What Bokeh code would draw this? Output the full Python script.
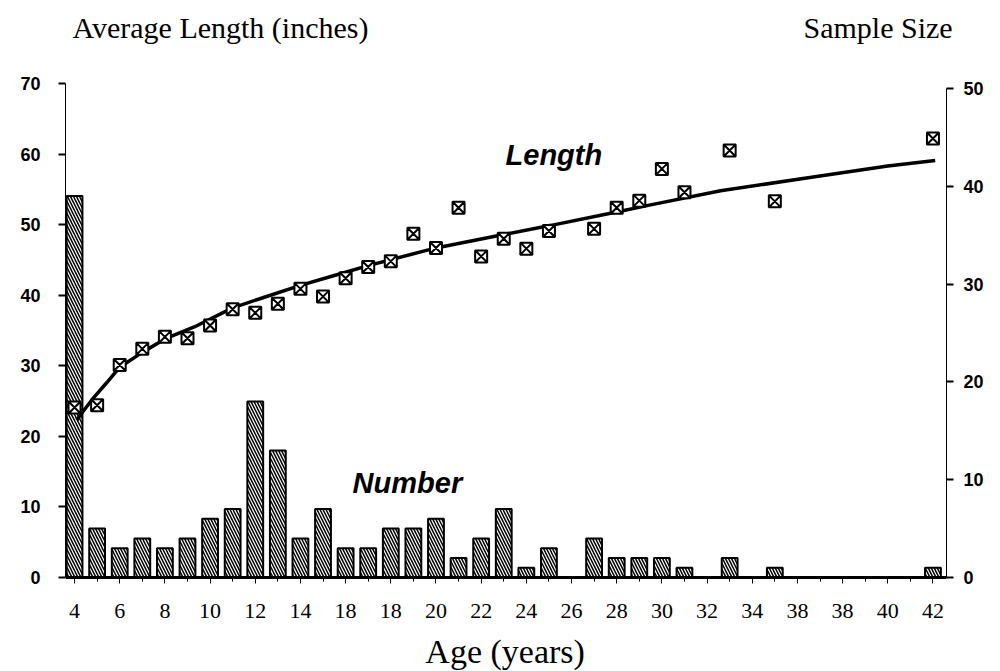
from bokeh.plotting import figure
from bokeh.models import Range1d, LinearAxis, FixedTicker, Label
from bokeh.embed import file_html
from bokeh.resources import INLINE

# ---- data ----
ages = [4, 5, 6, 7, 8, 9, 10, 11, 12, 13, 14, 15, 16, 17, 18, 19, 20, 21, 22, 23,
        24, 25, 27, 28, 29, 30, 31, 33, 35, 42]
sample_size = [39, 5, 3, 4, 3, 4, 6, 7, 18, 13, 4, 7, 3, 3, 5, 5, 6, 2, 4, 7,
               1, 3, 4, 2, 2, 2, 1, 2, 1, 1]
mean_length = [24.1, 24.4, 30.1, 32.4, 34.1, 33.9, 35.7, 38.0, 37.5, 38.8, 40.9, 39.8,
               42.4, 44.0, 44.8, 48.7, 46.7, 52.4, 45.5, 48.0, 46.6, 49.1, 49.4, 52.4,
               53.4, 57.9, 54.6, 60.5, 53.3, 62.2]

# fitted growth curve
curve_age = [4.1, 4.3, 4.85, 5.45, 6.0, 7.0, 8.0, 9.3, 11.0, 12.2, 14.0, 15.5, 17.0,
             20.0, 23.0, 25.1, 28.0, 29.5, 32.6, 36.4, 40.0, 42.1]
curve_length = [22.3, 23.2, 25.5, 27.7, 29.8, 31.9, 33.8, 35.5, 38.2, 39.5, 41.4, 42.8,
                 44.2, 46.7, 48.6, 49.9, 51.8, 52.8, 54.8, 56.6, 58.3, 59.1]

x_tick_values = [4, 6, 8, 10, 12, 14, 16, 18, 20, 22, 24, 26, 28, 30, 32, 34, 36, 38, 40, 42]
x_tick_labels = ["4", "6", "8", "10", "12", "14", "18", "18", "20", "22", "24", "26",
                 "28", "30", "32", "34", "38", "38", "40", "42"]
x_minor_ticks = [5, 7, 9, 11, 13, 15, 17, 19, 21, 23, 25, 27, 29, 31, 33, 35, 37, 39, 41]
left_ticks = [0, 10, 20, 30, 40, 50, 60, 70]
right_ticks = [0, 10, 20, 30, 40, 50]

X_START, X_END = 3.6, 42.6   # extent of the plotted axes

# frame spans the full height and reaches the right edge; axes are bounded
p = figure(width=1000, height=671,
           x_range=Range1d(X_START, 44.99), y_range=Range1d(-13.32, 81.76),
           output_backend="svg", toolbar_location=None,
           min_border_left=65, min_border_right=0,
           min_border_top=0, min_border_bottom=0)
p.extra_y_ranges = {"n": Range1d(-9.61, 59.0)}
p.grid.visible = False
p.outline_line_color = None
p.background_fill_color = "white"
p.border_fill_color = "white"

# bars: sample size (right axis)
p.vbar(x=ages, top=sample_size, bottom=0, width=0.7, y_range_name="n",
       fill_color="white", line_color="black", line_width=2,
       hatch_pattern="\\", hatch_color="black", hatch_scale=6, hatch_weight=1.5)

# fitted curve
p.line(curve_age, curve_length, line_width=3.5, line_color="black")

# average length points
p.scatter(ages, mean_length, marker="square_x", size=12,
          line_color="black", fill_color="white", line_width=2)

# x axis, placed at y = 0
xa = p.xaxis[0]
xa.fixed_location = 0
xa.bounds = (X_START, X_END)
xa.ticker = FixedTicker(ticks=x_tick_values, minor_ticks=x_minor_ticks)
xa.major_label_overrides = {v: l for v, l in zip(x_tick_values, x_tick_labels)}
xa.axis_line_width = 3
xa.axis_line_color = "black"
xa.major_tick_in = 0
xa.major_tick_out = 6
xa.minor_tick_in = 0
xa.minor_tick_out = 4
xa.major_tick_line_color = "black"
xa.minor_tick_line_color = "black"
xa.major_label_standoff = 21
xa.major_label_text_font = "Liberation Serif"
xa.major_label_text_font_size = "22px"
xa.major_label_text_color = "black"

# left axis
ya = p.yaxis[0]
ya.ticker = FixedTicker(ticks=left_ticks)
ya.bounds = (0, 70)

# right axis (sample size), placed at the right end of the x extent
ra = LinearAxis(y_range_name="n", ticker=FixedTicker(ticks=right_ticks), bounds=(0, 50))
ra.fixed_location = X_END
p.add_layout(ra, "right")

for ax, standoff in ((ya, 18), (ra, 10)):
    ax.axis_line_width = 1
    ax.axis_line_color = "black"
    ax.major_tick_in = 0
    ax.major_tick_out = 7
    ax.major_tick_line_width = 2
    ax.major_tick_line_color = "black"
    ax.minor_tick_line_color = None
    ax.major_label_standoff = standoff
    ax.major_label_text_font = "Liberation Sans"
    ax.major_label_text_font_style = "bold"
    ax.major_label_text_font_size = "18px"
    ax.major_label_text_color = "black"

# texts
def add_label(x, y, text, font, size, style="normal", align="left", baseline="alphabetic"):
    p.add_layout(Label(x=x, y=y, text=text, text_font=font, text_font_size=size,
                       text_font_style=style, text_align=align, text_baseline=baseline,
                       text_color="black"))

add_label(3.91, 77.94, "Average Length (inches)", "Liberation Serif", "30px")
add_label(42.87, 77.94, "Sample Size", "Liberation Serif", "30px", align="right")
add_label(23.08, 59.8, "Length", "Liberation Sans", "29px", style="bold italic")
add_label(16.31, 13.32, "Number", "Liberation Sans", "29px", style="bold italic")
add_label(23.06, -10.49, "Age (years)", "Liberation Serif", "34px", align="center")

open("out.html", "w").write(file_html(p, INLINE))
